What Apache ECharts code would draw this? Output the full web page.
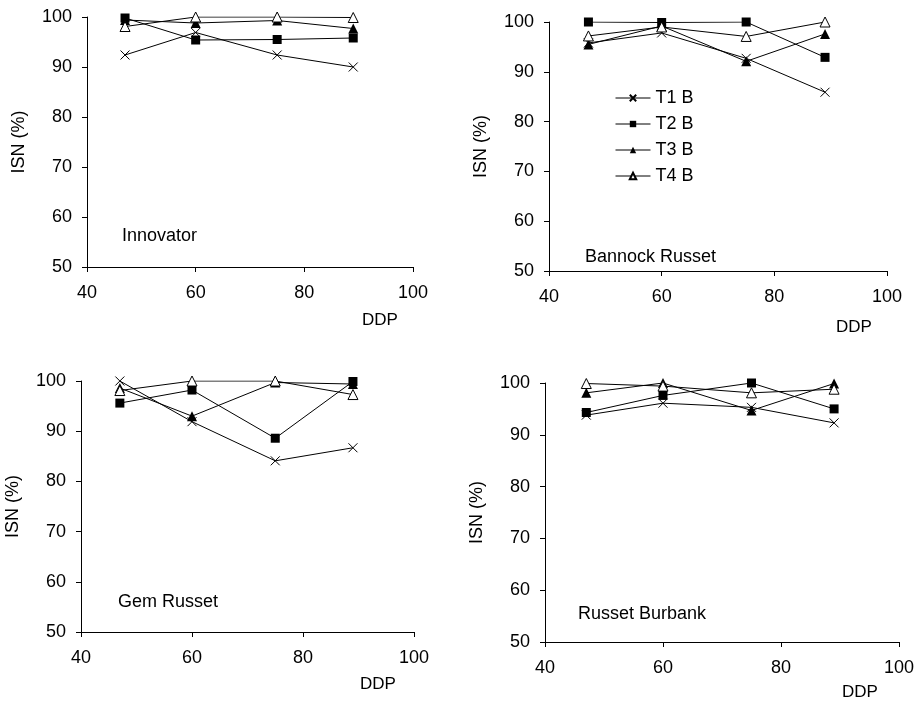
<!DOCTYPE html>
<html>
<head>
<meta charset="utf-8">
<script src="https://cdn.jsdelivr.net/npm/echarts@6/dist/echarts.min.js"></script>
<style>
  html, body { margin: 0; padding: 0; background: #fff; }
  #main { width: 917px; height: 701px; }
</style>
</head>
<body>
<div id="main"></div>
<script>
// DDP sampling points (x axis)
var ddp = [47, 60, 75, 89];
var seriesNames = ['T1 B', 'T2 B', 'T3 B', 'T4 B'];
var panelNames = ['Innovator', 'Bannock Russet', 'Gem Russet', 'Russet Burbank'];

// ISN (%) per panel, per treatment
var innovatorT1 = [92.4, 96.9, 92.4, 90.0];
var innovatorT2 = [99.8, 95.4, 95.5, 95.8];
var innovatorT3 = [99.4, 98.8, 99.3, 97.7];
var innovatorT4 = [98.1, 100, 100, 99.9];

var bannockT1 = [95.8, 97.8, 92.7, 85.9];
var bannockT2 = [100, 99.9, 100, 92.9];
var bannockT3 = [95.5, 99.2, 92.1, 97.6];
var bannockT4 = [97.2, 99.0, 97.1, 100];

var gemT1 = [100, 91.9, 84.1, 86.7];
var gemT2 = [95.6, 98.2, 88.6, 99.9];
var gemT3 = [98.6, 93.0, 99.7, 99.4];
var gemT4 = [98.1, 100, 100, 97.3];

var burbankT1 = [93.8, 96.1, 95.3, 92.3];
var burbankT2 = [94.3, 97.6, 100, 95.0];
var burbankT3 = [98.1, 100, 94.7, 99.9];
var burbankT4 = [99.9, 99.4, 98.1, 98.8];

var panelData = [
  [innovatorT1, innovatorT2, innovatorT3, innovatorT4],
  [bannockT1, bannockT2, bannockT3, bannockT4],
  [gemT1, gemT2, gemT3, gemT4],
  [burbankT1, burbankT2, burbankT3, burbankT4]
];

var xTicks = { min: 40, max: 100, interval: 20 };
var yTicks = { min: 50, max: 100, interval: 10 };

// layout of the four plots
var grids = [
  { left: 87, top: 17, width: 326, height: 250 },
  { left: 549, top: 22, width: 338, height: 249 },
  { left: 81, top: 381, width: 333, height: 251 },
  { left: 545, top: 383, width: 355, height: 259 }
];

var font = 'Liberation Sans, Arial, sans-serif';
var crossPath = 'path://M0,0L10,10M10,0L0,10';

var markerStyles = [
  { symbol: crossPath, symbolSize: 9, itemStyle: { color: 'none', borderColor: '#000', borderWidth: 1 } },
  { symbol: 'rect', symbolSize: 9, itemStyle: { color: '#000', borderColor: '#000', borderWidth: 0 } },
  { symbol: 'triangle', symbolSize: 10, itemStyle: { color: '#000', borderColor: '#000', borderWidth: 0 } },
  { symbol: 'triangle', symbolSize: 10, itemStyle: { color: '#fff', borderColor: '#000', borderWidth: 1 } }
];

function axisCommon() {
  return {
    axisLine: { show: true, lineStyle: { color: '#000', width: 1 } },
    axisTick: { show: true, inside: false, length: 5, lineStyle: { color: '#000' } },
    splitLine: { show: false },
    axisLabel: { color: '#000', fontFamily: font, fontSize: 18 }
  };
}

var xAxes = [], yAxes = [], series = [];
grids.forEach(function (g, i) {
  var xa = axisCommon();
  xa.type = 'value';
  xa.gridIndex = i;
  xa.min = xTicks.min; xa.max = xTicks.max; xa.interval = xTicks.interval;
  xa.axisLabel.margin = 17;
  xAxes.push(xa);

  var ya = axisCommon();
  ya.type = 'value';
  ya.gridIndex = i;
  ya.min = yTicks.min; ya.max = yTicks.max; ya.interval = yTicks.interval;
  ya.axisLabel.margin = 15;
  ya.name = 'ISN (%)';
  ya.nameLocation = 'middle';
  ya.nameGap = 59;
  ya.nameTextStyle = { color: '#000', fontFamily: font, fontSize: 18 };
  yAxes.push(ya);

  panelData[i].forEach(function (vals, k) {
    var m = markerStyles[k];
    series.push({
      name: seriesNames[k],
      type: 'line',
      xAxisIndex: i,
      yAxisIndex: i,
      data: vals.map(function (v, j) { return [ddp[j], v]; }),
      symbol: m.symbol,
      symbolSize: m.symbolSize,
      showAllSymbol: true,
      lineStyle: { color: '#000', width: 1 },
      itemStyle: m.itemStyle,
      emphasis: { disabled: true },
      z: 2 + k
    });
  });
});

// panel captions and DDP labels
var txt = function (x, y, s, size) {
  return { type: 'text', left: x, top: y, style: { text: s, fill: '#000', font: size + 'px ' + font } };
};
var graphics = [
  txt(122, 227, panelNames[0], 18),
  txt(585, 248, panelNames[1], 18),
  txt(118, 593, panelNames[2], 18),
  txt(578, 605, panelNames[3], 18),
  txt(362, 312, 'DDP', 17),
  txt(836, 319, 'DDP', 17),
  txt(360, 676, 'DDP', 17),
  txt(842, 684, 'DDP', 17)
];

var chart = echarts.init(document.getElementById('main'));
chart.setOption({
  animation: false,
  backgroundColor: '#fff',
  grid: grids,
  xAxis: xAxes,
  yAxis: yAxes,
  legend: {
    data: seriesNames,
    orient: 'vertical',
    left: 610,
    top: 84,
    itemGap: 8,
    itemWidth: 35,
    itemHeight: 8,
    lineStyle: { width: 1, color: '#000' },
    textStyle: { color: '#000', fontFamily: font, fontSize: 18 },
    selectedMode: false
  },
  graphic: graphics,
  series: series
});
</script>
</body>
</html>
